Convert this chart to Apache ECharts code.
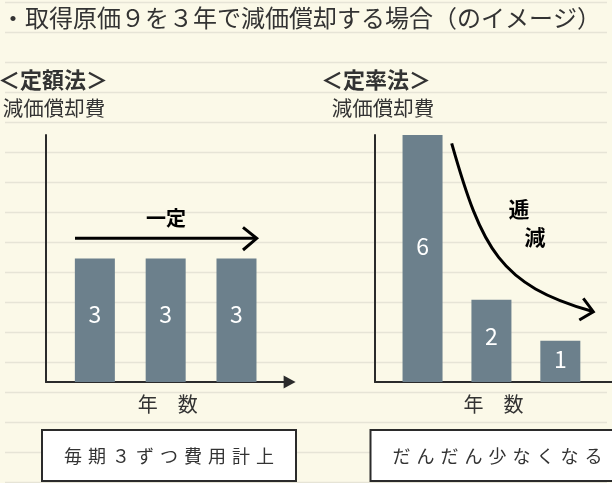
<!DOCTYPE html>
<html>
<head>
<meta charset="utf-8">
<script src="https://cdn.jsdelivr.net/npm/echarts@6/dist/echarts.min.js"></script>
<style>
  html, body { margin: 0; padding: 0; background: #fbf9e8; }
  #main { width: 612px; height: 483px; }
</style>
</head>
<body>
<div id="main"></div>
<script>
// data
const years = [1, 2, 3]
const straightLine = [3, 3, 3]       // 定額法
const decliningBalance = [6, 2, 1]   // 定率法
const title = '・取得原価９を３年で減価償却する場合（のイメージ）'
const methodNames = ['＜定額法＞', '＜定率法＞']
const yName = '減価償却費'
const xName = '年　数'
const notes = ['毎期３ずつ費用計上', 'だんだん少なくなる']

const FONT = 'Noto Sans CJK JP'
const INK = '#333'
const BAR = '#6c808c'
const gap = '\u2004'

const chart = echarts.init(document.getElementById('main'), null, {renderer: 'canvas'})

// ruled notebook lines behind everything
const ruled = []
for (let y = 2.5; y < 483; y += 30) {
  ruled.push({
    type: 'line', z: -1, silent: true,
    shape: {x1: 5, y1: y, x2: 607, y2: y},
    style: {stroke: '#e6e4d6', lineWidth: 1.5}
  })
}

function label(text, x, y, opts = {}) {
  return {
    type: 'text', x, y, z: 20,
    style: Object.assign({
      text, fontFamily: FONT, fontSize: 20, fill: INK,
      align: 'left', verticalAlign: 'middle'
    }, opts)
  }
}

function xAxis(gridIndex, arrow) {
  return {
    type: 'value', gridIndex, min: 0.31, max: 3.75,
    name: xName, nameLocation: 'middle', nameGap: 12,
    nameTextStyle: {fontFamily: FONT, fontSize: 20, color: INK, verticalAlign: 'top'},
    axisLine: {
      show: true, onZero: false,
      symbol: arrow ? ['none', 'triangle'] : 'none',
      symbolSize: [13, 12],
      lineStyle: {color: '#2b2b2b', width: 2}
    },
    axisTick: {show: false}, axisLabel: {show: false}, splitLine: {show: false}
  }
}

function yAxis(gridIndex) {
  return {
    type: 'value', gridIndex, min: 0, max: 6,
    name: yName, nameLocation: 'end', nameGap: 17,
    nameTextStyle: {fontFamily: FONT, fontSize: 20.5, color: INK, padding: [0, 0, 0, 16]},
    axisLine: {show: true, lineStyle: {color: '#2b2b2b', width: 2}},
    axisTick: {show: false}, axisLabel: {show: false}, splitLine: {show: false}
  }
}

function barSeries(idx, values) {
  return {
    type: 'bar', xAxisIndex: idx, yAxisIndex: idx,
    data: years.map((yr, i) => [yr, values[i]]),
    barWidth: 40,
    itemStyle: {color: BAR},
    label: {
      show: true, position: ['50%', '45%'], align: 'center', verticalAlign: 'middle',
      color: '#fff', fontFamily: FONT, fontSize: 23
    }
  }
}

chart.setOption({
  backgroundColor: '#fbf9e8',
  animation: false,
  grid: [
    {left: 46, top: 135, width: 243.6, height: 247},
    {left: 375, top: 135, width: 243.6, height: 247}
  ],
  xAxis: [xAxis(0, true), xAxis(1, false)],
  yAxis: [yAxis(0), yAxis(1)],
  series: [barSeries(0, straightLine), barSeries(1, decliningBalance)],
  graphic: [
    ...ruled,
    label(title, 1, 18, {fontSize: 24}),
    label(methodNames[0], -2, 80, {fontSize: 22, fontWeight: 'bold'}),
    label(methodNames[1], 321, 80, {fontSize: 22, fontWeight: 'bold'}),
    // 一定 arrow
    label('一定', 166, 218, {align: 'center', fontWeight: 'bold', fill: '#000'}),
    {type: 'line', z: 20, shape: {x1: 75, y1: 238.3, x2: 255, y2: 238.3},
      style: {stroke: '#000', lineWidth: 3}},
    {type: 'polyline', z: 20, shape: {points: [[243, 227.3], [256.7, 238.3], [243, 250]]},
      style: {stroke: '#000', lineWidth: 3, fill: null}},
    // 逓減 curve
    {type: 'bezierCurve', z: 20,
      shape: {x1: 451.7, y1: 143.3, cpx1: 482, cpy1: 250, cpx2: 500, cpy2: 285, x2: 592, y2: 311.3},
      style: {stroke: '#000', lineWidth: 3, fill: null}},
    {type: 'polyline', z: 20, shape: {points: [[583.3, 298.3], [593.3, 311.7], [579.3, 320]]},
      style: {stroke: '#000', lineWidth: 3, fill: null}},
    label('逓', 519, 209, {align: 'center', fontWeight: 'bold', fill: '#000', fontSize: 21}),
    label('減', 535, 237, {align: 'center', fontWeight: 'bold', fill: '#000', fontSize: 21}),
    // note boxes
    {type: 'rect', z: 15, shape: {x: 42, y: 430, width: 254, height: 51},
      style: {fill: '#fff', stroke: '#2b2b2b', lineWidth: 2}},
    {type: 'rect', z: 15, shape: {x: 370.5, y: 430, width: 260, height: 51},
      style: {fill: '#fff', stroke: '#2b2b2b', lineWidth: 2}},
    label(notes[0].split('').join(gap), 169, 456, {align: 'center', fontSize: 18}),
    label(notes[1].split('').join(gap), 497.5, 456, {align: 'center', fontSize: 18})
  ]
})
</script>
</body>
</html>
